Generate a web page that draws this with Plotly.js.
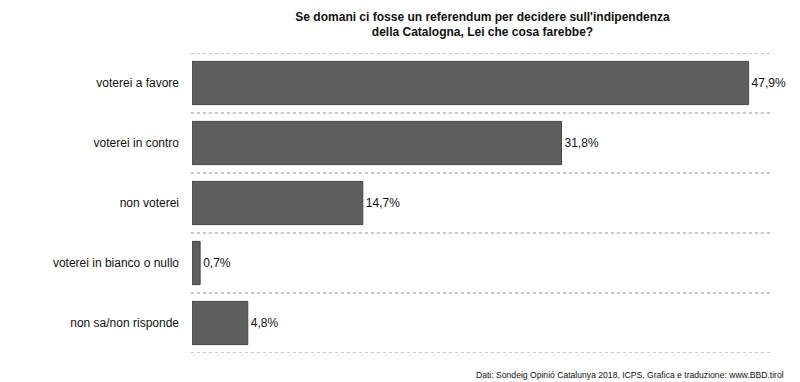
<!DOCTYPE html>
<html><head><meta charset="utf-8">
<script src="https://cdn.plot.ly/plotly-3.0.1.min.js"></script>
<style>html,body{margin:0;padding:0;background:#fff}#chart{width:800px;height:382px}</style>
</head><body><div id="chart"></div>
<script>
const categories = ["voterei a favore", "voterei in contro", "non voterei", "voterei in bianco o nullo", "non sa/non risponde"];
const values = [47.9, 31.8, 14.7, 0.7, 4.8];
const valueLabels = ["47,9%", "31,8%", "14,7%", "0,7%", "4,8%"];
const titleText = "Se domani ci fosse un referendum per decidere sull'indipendenza<br>della Catalogna, Lei che cosa farebbe?";
const sourceText = "Dati: Sondeig Opinió Catalunya 2018, ICPS. Grafica e traduzione: www.BBD.tirol";

const font = "Liberation Sans, Arial, Helvetica, sans-serif";
const shapes = [];
for (let i = 0; i <= categories.length; i++) {
  shapes.push({type:'line', xref:'paper', yref:'y', x0:-0.002, x1:1, y0:i-0.5, y1:i-0.5,
    line:{color:'#b4b4b4', width:1.5, dash:'dot'}, layer:'below'});
}
const trace = {
  type:'bar', orientation:'h', x:values, y:categories,
  text:valueLabels, textposition:'outside', cliponaxis:false,
  textfont:{family:font, size:12, color:'#111'},
  marker:{color:'#5e5e5e', line:{color:'#474747', width:1}},
  hoverinfo:'none'
};
const layout = {
  width:800, height:382,
  margin:{l:192, r:27, t:53, b:29},
  paper_bgcolor:'#fff', plot_bgcolor:'#fff',
  bargap:0.28,
  showlegend:false,
  font:{family:font, size:12, color:'#111'},
  title:{text:titleText, font:{family:font, size:12, color:'#111', weight:'bold'},
    x:0.5, xref:'paper', xanchor:'center', y:0.946, yref:'container', yanchor:'top'},
  xaxis:{range:[0,50], visible:false, fixedrange:true},
  yaxis:{range:[4.5,-0.5], showgrid:false, zeroline:false, showline:false, ticks:'',
    ticklabelstandoff:12, tickfont:{family:font, size:12, color:'#111'}},
  shapes:shapes,
  annotations:[{text:sourceText, xref:'paper', yref:'paper', x:1.023, y:-0.05, xanchor:'right', yanchor:'top',
    showarrow:false, font:{family:font, size:8.6, color:'#111'}}]
};
Plotly.newPlot('chart', [trace], layout, {displayModeBar:false, staticPlot:true});
</script></body></html>
